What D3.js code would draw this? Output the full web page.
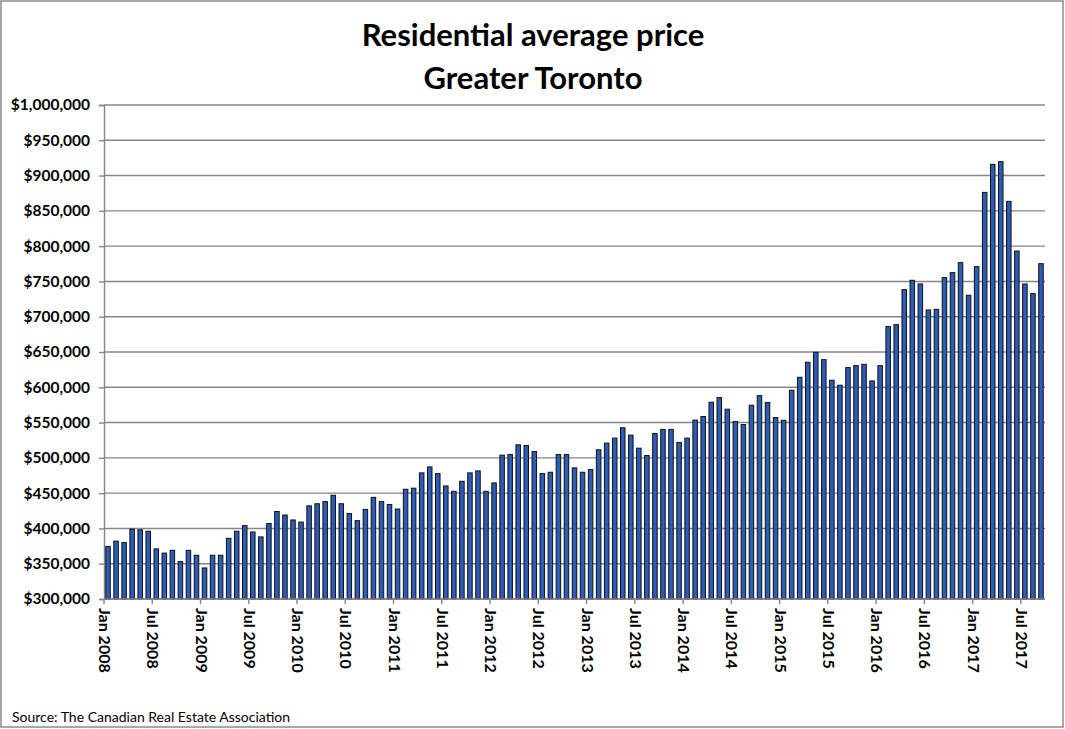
<!DOCTYPE html>
<html>
<head>
    <meta charset="utf-8">
    <script src="https://cdn.jsdelivr.net/npm/d3@7"></script>
    <style>
        body { margin: 0; background: #fff; }
    </style>
</head>
<body>
<div id="chart"></div>

<script>

    // monthly average price (in dollars), Jan 2008 .. Sep 2017
    var years = [2008, 2009, 2010, 2011, 2012, 2013, 2014, 2015, 2016, 2017];
    var monthNames = ['Jan', 'Feb', 'Mar', 'Apr', 'May', 'Jun', 'Jul', 'Aug', 'Sep', 'Oct', 'Nov', 'Dec'];

    var prices = [
        374500, 382000, 380000, 399000, 398000, 396000, 371000, 365000, 369000, 353000, 369000, 362000,
        344000, 362000, 362000, 386000, 396000, 404000, 395000, 388000, 407000, 424000, 419000, 412000,
        409000, 432000, 435000, 438000, 447000, 435000, 421000, 411000, 427000, 444000, 438000, 434000,
        427500, 455500, 457000, 478700, 487200, 477700, 460200, 452600, 466800, 478700, 481500, 452600,
        464500, 503800, 504700, 518500, 517500, 509000, 477700, 479600, 504700, 504700, 485800, 479600,
        483400, 511400, 520900, 528000, 542700, 532200, 513700, 503300, 534600, 540300, 540300, 521800,
        528000, 553500, 558600, 578800, 585400, 568900, 551400, 547200, 574600, 588200, 578300, 557100,
        553300, 595800, 614200, 635500, 649600, 639200, 610000, 602900, 627900, 630700, 632600, 609000,
        630700, 686000, 688800, 738400, 751600, 746400, 709600, 710500, 755400, 762500, 776600, 730400,
        771000, 876200, 915900, 919700, 863500, 793100, 746400, 732700, 775200
    ];

    var yTicks = [300000, 350000, 400000, 450000, 500000, 550000, 600000, 650000, 700000, 750000, 800000, 850000, 900000, 950000, 1000000];

    var months = prices.map(function(p, i) {
        return monthNames[i % 12] + ' ' + years[Math.floor(i / 12)];
    });

    var width = 1065;
    var height = 729;
    var margin = { top: 105, left: 104 };
    var plotW = 1045 - margin.left;
    var plotH = 599 - margin.top;

    var svg = d3.select('#chart').append('svg')
        .attr('width', width)
        .attr('height', height);

    // outer frame
    svg.append('rect')
        .attr('x', 1).attr('y', 1)
        .attr('width', width - 3).attr('height', height - 3)
        .attr('fill', '#fff')
        .attr('stroke', '#8c8c8c')
        .attr('stroke-width', 1.5);

    svg.append('text')
        .attr('x', 533).attr('y', 46)
        .attr('text-anchor', 'middle')
        .attr('font-family', 'Lato')
        .attr('font-weight', 'bold')
        .attr('font-size', 31)
        .attr('fill', '#000')
        .text('Residential average price');

    svg.append('text')
        .attr('x', 533).attr('y', 89)
        .attr('text-anchor', 'middle')
        .attr('font-family', 'Lato')
        .attr('font-weight', 'bold')
        .attr('font-size', 31)
        .attr('fill', '#000')
        .text('Greater Toronto');

    var g = svg.append('g')
        .attr('transform', 'translate(' + margin.left + ',' + margin.top + ')');

    var x = d3.scaleBand()
        .domain(months)
        .range([0, plotW])
        .paddingInner(0.44)
        .paddingOuter(0.22);

    var y = d3.scaleLinear()
        .domain([300000, 1000000])
        .range([plotH, 0]);

    // horizontal gridlines
    g.selectAll('line.grid')
        .data(yTicks)
        .enter()
        .append('line')
        .attr('class', 'grid')
        .attr('x1', 0).attr('x2', plotW)
        .attr('y1', function(d) { return y(d); })
        .attr('y2', function(d) { return y(d); })
        .attr('stroke', '#868686')
        .attr('stroke-width', 1.4);

    // y axis
    var yAxis = g.append('g')
        .call(d3.axisLeft(y)
            .tickValues(yTicks)
            .tickSize(5)
            .tickPadding(9)
            .tickFormat(function(d) { return '$' + d3.format(',')(d); }));

    yAxis.select('.domain').attr('stroke', '#868686').attr('stroke-width', 1.4);
    yAxis.selectAll('.tick line').attr('stroke', '#868686').attr('stroke-width', 1.4);
    yAxis.selectAll('.tick text')
        .attr('font-family', 'Lato')
        .attr('font-weight', 'bold')
        .attr('font-size', 15.5)
        .attr('fill', '#000');

    // bars
    g.selectAll('rect.bar')
        .data(prices)
        .enter()
        .append('rect')
        .attr('class', 'bar')
        .attr('x', function(d, i) { return x(months[i]); })
        .attr('y', function(d) { return y(d); })
        .attr('width', x.bandwidth())
        .attr('height', function(d) { return plotH - y(d); })
        .attr('fill', '#2b5cb8')
        .attr('stroke', '#111')
        .attr('stroke-width', 1);

    // x axis: ticks every 6 months at category boundaries
    var labelled = months.filter(function(m, i) { return i % 6 === 0; });
    var gap = x.step() - x.bandwidth();
    var xAxis = g.append('g')
        .attr('transform', 'translate(0,' + plotH + ')');

    xAxis.append('line')
        .attr('x1', 0).attr('x2', plotW)
        .attr('stroke', '#868686')
        .attr('stroke-width', 1.4);

    var ticks = xAxis.selectAll('g.xtick')
        .data(labelled)
        .enter()
        .append('g')
        .attr('class', 'xtick')
        .attr('transform', function(d) { return 'translate(' + (x(d) - gap / 2) + ',0)'; });

    ticks.append('line')
        .attr('y1', 0).attr('y2', 5)
        .attr('stroke', '#868686')
        .attr('stroke-width', 1.4);

    ticks.append('text')
        .attr('transform', 'translate(-5,9) rotate(90)')
        .attr('font-family', 'Lato')
        .attr('font-weight', 'bold')
        .attr('font-size', 16)
        .attr('fill', '#000')
        .text(function(d) { return d; });

    svg.append('text')
        .attr('x', 12).attr('y', 722)
        .attr('font-family', 'Lato')
        .attr('font-size', 14)
        .attr('fill', '#000')
        .text('Source: The Canadian Real Estate Association');

</script>
</body>
</html>
